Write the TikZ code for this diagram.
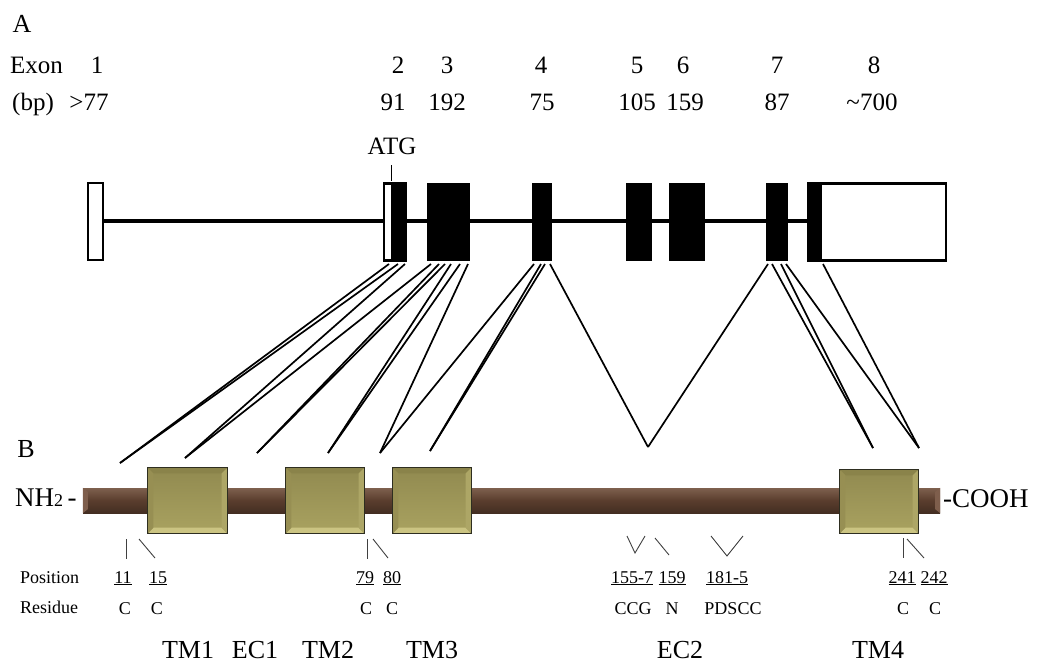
\documentclass[tikz,border=0pt]{standalone}
\usepackage{fontspec}
\setmainfont{Liberation Serif}
\begin{document}
\begin{tikzpicture}[x=1pt,y=-1pt,
  big/.style={inner sep=0pt, anchor=base, font=\fontsize{25}{28}\selectfont},
  panel/.style={inner sep=0pt, anchor=base, font=\fontsize{26}{30}\selectfont},
  small/.style={inner sep=0pt, anchor=base, font=\fontsize{18}{20}\selectfont},
  tmlbl/.style={inner sep=0pt, anchor=base, font=\fontsize{26}{30}\selectfont},
  termlbl/.style={inner sep=0pt, anchor=base west, font=\fontsize{27}{30}\selectfont},
  openexon/.style={draw=black, fill=white, line width=2.4pt, inner sep=0pt, minimum height=77pt},
  fullexon/.style={draw=black, fill=black, line width=1pt, inner sep=0pt, minimum height=77pt},
  conn/.style={line width=1.7pt, black},
  tick/.style={line width=0.9pt, black!75},
  tm/.style={draw=tmborder, line width=1.2pt, inner sep=0pt, top color=tmtop, bottom color=tmbot},
  barstyle/.style={inner sep=0pt, top color=bartop, bottom color=barbot, middle color=barmid},
]
\definecolor{tmtop}{HTML}{918A50}
\definecolor{tmbot}{HTML}{A9A260}
\definecolor{tmborder}{HTML}{2E2E20}
\definecolor{bevT}{HTML}{8A834A}
\definecolor{bevB}{HTML}{CBC482}
\definecolor{bevL}{HTML}{978F53}
\definecolor{bevR}{HTML}{ADA666}
\definecolor{bartop}{HTML}{7E604E}
\definecolor{barmid}{HTML}{5A3D2D}
\definecolor{barbot}{HTML}{432E22}
\definecolor{barend}{HTML}{7E5E4C}
\useasboundingbox (0,0) rectangle (1039,664);

% ---------- Panel A ----------
\node[panel] (labA) at (22,32) {A};
\node[big, anchor=base west] (exonw) at (10,73) {Exon};
\node[big, anchor=base west] (bpw) at (12,110) {(bp)};
\node[big] (n1) at (97,73) {1};
\node[big] (s1) at (89,110) {>77};
\node[big] (n2) at (398,73) {2};
\node[big] (s2) at (393,110) {91};
\node[big] (n3) at (447,73) {3};
\node[big] (s3) at (447,110) {192};
\node[big] (n4) at (541,73) {4};
\node[big] (s4) at (542,110) {75};
\node[big] (n5) at (637,73) {5};
\node[big] (s5) at (637,110) {105};
\node[big] (n6) at (683,73) {6};
\node[big] (s6) at (685,110) {159};
\node[big] (n7) at (777,73) {7};
\node[big] (s7) at (777,110) {87};
\node[big] (n8) at (874,73) {8};
\node[big] (s8) at (872,110) {\textasciitilde700};
\node[big] (atg) at (392,154) {ATG};

% intron line
\draw[line width=4.5pt] (104,221) -- (808,221);

% exons
\node[openexon, minimum width=15pt] (e1) at (95.5,221.5) {};
\node[openexon, minimum width=22pt] (e2) at (395,222) {};
\fill (391,183) rectangle (407,261);
\node[fullexon, minimum width=42pt] (e3) at (448.5,222) {};
\node[fullexon, minimum width=19pt] (e4) at (542,222) {};
\node[fullexon, minimum width=25pt] (e5) at (639,222) {};
\node[fullexon, minimum width=35pt] (e6) at (687,222) {};
\node[fullexon, minimum width=21pt] (e7) at (777,222) {};
\node[openexon, minimum width=138pt] (e8) at (877,222) {};
\fill (807,183) rectangle (822,261);
\draw[line width=1pt] (391,165) -- (391,181);

% ---------- connector ends ----------
\coordinate (t1) at (389,264);
\coordinate (t2) at (398,264);
\coordinate (t3) at (405,264);
\coordinate (t4) at (431,264);
\coordinate (t5) at (439,264);
\coordinate (t6) at (445,264);
\coordinate (t7) at (451,264);
\coordinate (t8) at (460,264);
\coordinate (t9) at (468,264);
\coordinate (t10) at (534,264);
\coordinate (t11) at (541,264);
\coordinate (t12) at (545,264);
\coordinate (t13) at (550,264);
\coordinate (t14) at (768,264);
\coordinate (t15) at (772,264);
\coordinate (t16) at (781,264);
\coordinate (t17) at (786,264);
\coordinate (t18) at (823,264);
\coordinate (b1) at (120,463);
\coordinate (b2) at (185,458);
\coordinate (b3) at (257,453);
\coordinate (b4) at (328,453);
\coordinate (b5) at (380,453);
\coordinate (b6) at (430,451);
\coordinate (b7) at (648,447);
\coordinate (b8) at (873,448);
\coordinate (b9) at (919,448);

\draw[conn] (t1) -- (b1);
\draw[conn] (t2) -- (b1);
\draw[conn] (t3) -- (b2);
\draw[conn] (t4) -- (b2);
\draw[conn] (t5) -- (b3);
\draw[conn] (t6) -- (b3);
\draw[conn] (t7) -- (b4);
\draw[conn] (t8) -- (b4);
\draw[conn] (t9) -- (b5);
\draw[conn] (t10) -- (b5);
\draw[conn] (t11) -- (b6);
\draw[conn] (t12) -- (b6);
\draw[conn] (t13) -- (b7);
\draw[conn] (t14) -- (b7);
\draw[conn] (t15) -- (b8);
\draw[conn] (t16) -- (b8);
\draw[conn] (t17) -- (b9);
\draw[conn] (t18) -- (b9);

% ---------- Panel B ----------
\node[panel] (labB) at (26,457) {B};
\node[barstyle, minimum width=857pt, minimum height=25pt] (bar) at (511.5,500.5) {};
\fill[barend] (bar.north west) -- ([shift={(5pt,-4pt)}]bar.north west) -- ([shift={(5pt,4pt)}]bar.south west) -- (bar.south west) -- cycle;
\fill[barend] (bar.north east) -- ([shift={(-5pt,-4pt)}]bar.north east) -- ([shift={(-5pt,4pt)}]bar.south east) -- (bar.south east) -- cycle;

\newcommand\tmbevel[1]{%
  \fill[bevT] (#1.north west) -- (#1.north east) -- ([shift={(-6pt,-6pt)}]#1.north east) -- ([shift={(6pt,-6pt)}]#1.north west) -- cycle;
  \fill[bevB] (#1.south west) -- (#1.south east) -- ([shift={(-6pt,6pt)}]#1.south east) -- ([shift={(6pt,6pt)}]#1.south west) -- cycle;
  \fill[bevL] (#1.north west) -- ([shift={(6pt,-6pt)}]#1.north west) -- ([shift={(6pt,6pt)}]#1.south west) -- (#1.south west) -- cycle;
  \fill[bevR] (#1.north east) -- ([shift={(-6pt,-6pt)}]#1.north east) -- ([shift={(-6pt,6pt)}]#1.south east) -- (#1.south east) -- cycle;
  \draw[tmborder, line width=1.2pt] (#1.north west) rectangle (#1.south east);}

\node[tm, minimum width=79pt, minimum height=65pt] (tm1) at (187.5,500.5) {};
\tmbevel{tm1}
\node[tm, minimum width=78pt, minimum height=65pt] (tm2) at (325,500.5) {};
\tmbevel{tm2}
\node[tm, minimum width=78pt, minimum height=65pt] (tm3) at (432,500.5) {};
\tmbevel{tm3}
\node[tm, minimum width=78pt, minimum height=63pt] (tm4) at (879,501.5) {};
\tmbevel{tm4}

\node[termlbl] (nh2) at (15,506) {NH{\fontsize{18}{20}\selectfont 2}\,-};
\node[termlbl] (cooh) at (943,507) {-COOH};

% ticks
\draw[tick] (126,539) -- (126,559);
\draw[tick] (139,539) -- (155,558);
\draw[tick] (367,539) -- (367,559);
\draw[tick] (373,539) -- (388,558);
\draw[tick] (627,536) -- (635,553) -- (645,536);
\draw[tick] (655,538) -- (669,555);
\draw[tick] (711,536) -- (727,556) -- (743,536);
\draw[tick] (903,538) -- (903,558);
\draw[tick] (907,539) -- (924,558);

% position / residue
\node[small, anchor=base west] (pos) at (20,583) {Position};
\node[small, anchor=base west] (res) at (20,613) {Residue};
\node[small] (p11) at (123,583) {\underline{11}};
\node[small] (p15) at (158,583) {\underline{15}};
\node[small] (p79) at (365,583) {\underline{79}};
\node[small] (p80) at (392,583) {\underline{80}};
\node[small] (p155) at (632,583) {\underline{155-7}};
\node[small] (p159) at (672,583) {\underline{159}};
\node[small] (p181) at (727,583) {\underline{181-5}};
\node[small] (p241) at (902,583) {\underline{241}};
\node[small] (p242) at (934,583) {\underline{242}};
\node[small] (r11) at (125,614) {C};
\node[small] (r15) at (157,614) {C};
\node[small] (r79) at (366,614) {C};
\node[small] (r80) at (392,614) {C};
\node[small] (r155) at (633,614) {CCG};
\node[small] (r159) at (672,614) {N};
\node[small] (r181) at (733,614) {PDSCC};
\node[small] (r241) at (903,614) {C};
\node[small] (r242) at (935,614) {C};

% domain labels
\node[tmlbl] (lTM1) at (188,658) {TM1};
\node[tmlbl] (lEC1) at (255,658) {EC1};
\node[tmlbl] (lTM2) at (328,658) {TM2};
\node[tmlbl] (lTM3) at (432,658) {TM3};
\node[tmlbl] (lEC2) at (680,658) {EC2};
\node[tmlbl] (lTM4) at (878,658) {TM4};
\end{tikzpicture}
\end{document}
